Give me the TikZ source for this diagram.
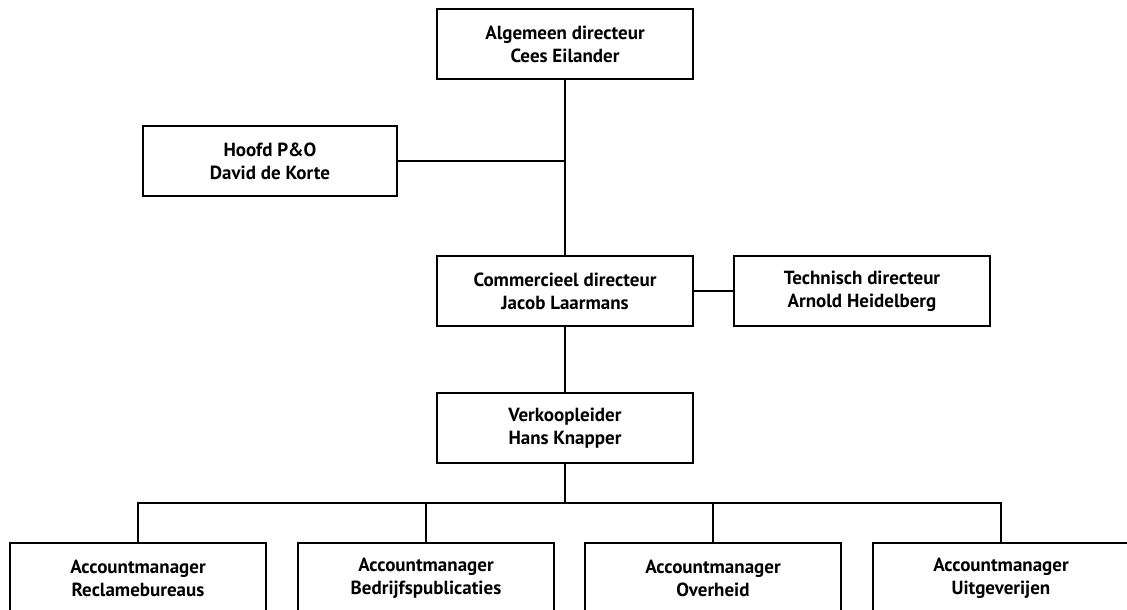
\documentclass[tikz,border=0pt]{standalone}
\usepackage{fontspec}
\setmainfont{PT Sans}
\usepackage{tikz}
\usetikzlibrary{positioning,calc}

\begin{document}
\begin{tikzpicture}[
    x=1pt, y=-1pt,
    post/.style={rectangle, draw, line width=2pt, minimum width=256pt, minimum height=70pt, inner sep=0pt, align=center, font=\bfseries\fontsize{19}{23}\selectfont, fill=white},
    link/.style={line width=2pt}
]
    \useasboundingbox (0,0) rectangle (1127,610);

    % Directie
    \node[post] (alg) at (565,44) {Algemeen directeur\\Cees Eilander};
    \node[post, minimum width=254pt] (hpo) at (270,161) {Hoofd P\&O\\David de Korte};
    \node[post] (com) at (565,291) {Commercieel directeur\\Jacob Laarmans};
    \node[post] (tech) at (862,291) {Technisch directeur\\Arnold Heidelberg};
    \node[post] (verk) at (565,428) {Verkoopleider\\Hans Knapper};

    % Accountmanagers
    \node[post] (am1) at (138,578) {Accountmanager\\Reclamebureaus};
    \node[post] (am2) at (426,578) {Accountmanager\\Bedrijfspublicaties};
    \node[post] (am3) at (713,578) {Accountmanager\\Overheid};
    \node[post] (am4) at (1001,578) {Accountmanager\\Uitgeverijen};

    % Lijnen
    \draw[link] (alg) -- (com);
    \draw[link] (hpo.east) -- (hpo.east -| alg.south);
    \draw[link] (com) -- (tech);
    \draw[link] (com) -- (verk);
    \coordinate (bus) at (565,503);
    \draw[link] (verk) -- (bus);
    \draw[link] (am1.north) |- (bus) -| (am4.north);
    \draw[link] (am2.north) |- (bus);
    \draw[link] (am3.north) |- (bus);
\end{tikzpicture}
\end{document}
